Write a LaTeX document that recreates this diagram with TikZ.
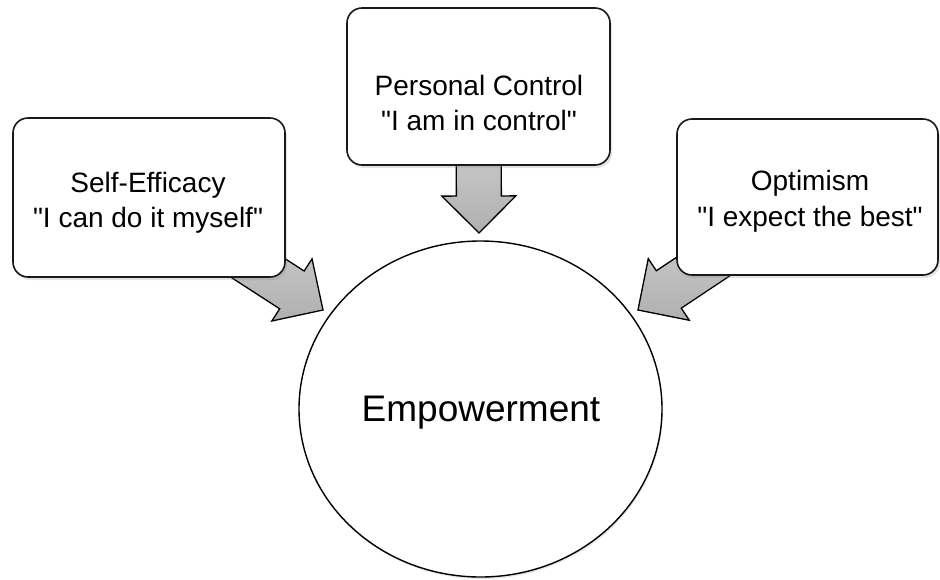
\documentclass[tikz,border=0pt]{standalone}
\usepackage{fontspec}
\setmainfont{Liberation Sans}[Ligatures=TeXOff]
\usetikzlibrary{calc,shapes.geometric,shadows}
\pgfdeclarelayer{background}
\pgfsetlayers{background,main}
\tikzset{
  infobox/.style={draw=black!90, line width=1.6pt, rounded corners=15pt, fill=white,
    drop shadow={shadow xshift=2pt, shadow yshift=-3pt, opacity=0.22}},
  boxtext/.style={font=\fontsize{28}{34}\selectfont, anchor=base, inner sep=0pt},
  hub/.style={ellipse, draw=black, line width=1.4pt, fill=white, inner sep=0pt,
    drop shadow={shadow xshift=1pt, shadow yshift=-2pt, opacity=0.18}},
  hubtext/.style={font=\fontsize{37}{44}\selectfont, anchor=base, inner sep=0pt},
  fatarrow/.style={draw=black, line width=1.3pt, line join=miter,
    top color=gray!28, bottom color=gray!62},
}
% block arrow from node #1 (center) to coordinate #2
\newcommand\fatarrowfrom[2]{%
  \coordinate (hb) at ($(#2)!37pt!(#1.center)$);
  \path[fatarrow]
    ($(#1.center)!22.5pt!90:(#2)$) --
    ($(hb)!22.5pt!90:(#2)$) --
    ($(hb)!37pt!90:(#2)$) --
    (#2) --
    ($(hb)!37pt!-90:(#2)$) --
    ($(hb)!22.5pt!-90:(#2)$) --
    ($(#1.center)!22.5pt!-90:(#2)$) -- cycle;
}
\begin{document}
\begin{tikzpicture}[x=1pt,y=-1pt]
\useasboundingbox (0,0) rectangle (940,579);

% boxes
\node[infobox, minimum width=272pt, minimum height=159pt] (se) at (149,197.5) {};
\node[infobox, minimum width=263pt, minimum height=157pt] (pc) at (478.5,86.5) {};
\node[infobox, minimum width=261pt, minimum height=156pt] (op) at (807.5,197) {};

% hub
\node[hub, minimum width=363pt, minimum height=336pt] (emp) at (480.5,409) {};
\node[hubtext] (emptext) at (481,421.7) {Empowerment};

% box texts
\node[boxtext] (se1) at (148,192) {Self-Efficacy};
\node[boxtext] (se2) at (148,227) {"I can do it myself"};
\node[boxtext] (pc1) at (479,95) {Personal Control};
\node[boxtext] (pc2) at (479,130) {"I am in control"};
\node[boxtext] (op1) at (810,190) {Optimism};
\node[boxtext] (op2) at (810,226) {"I expect the best"};

% arrow tips
\coordinate (tipse) at (323,310);
\coordinate (tippc) at (479,233);
\coordinate (tipop) at (638,310);

\begin{pgfonlayer}{background}
  \fatarrowfrom{se}{tipse}
  \fatarrowfrom{pc}{tippc}
  \fatarrowfrom{op}{tipop}
\end{pgfonlayer}
\end{tikzpicture}
\end{document}
